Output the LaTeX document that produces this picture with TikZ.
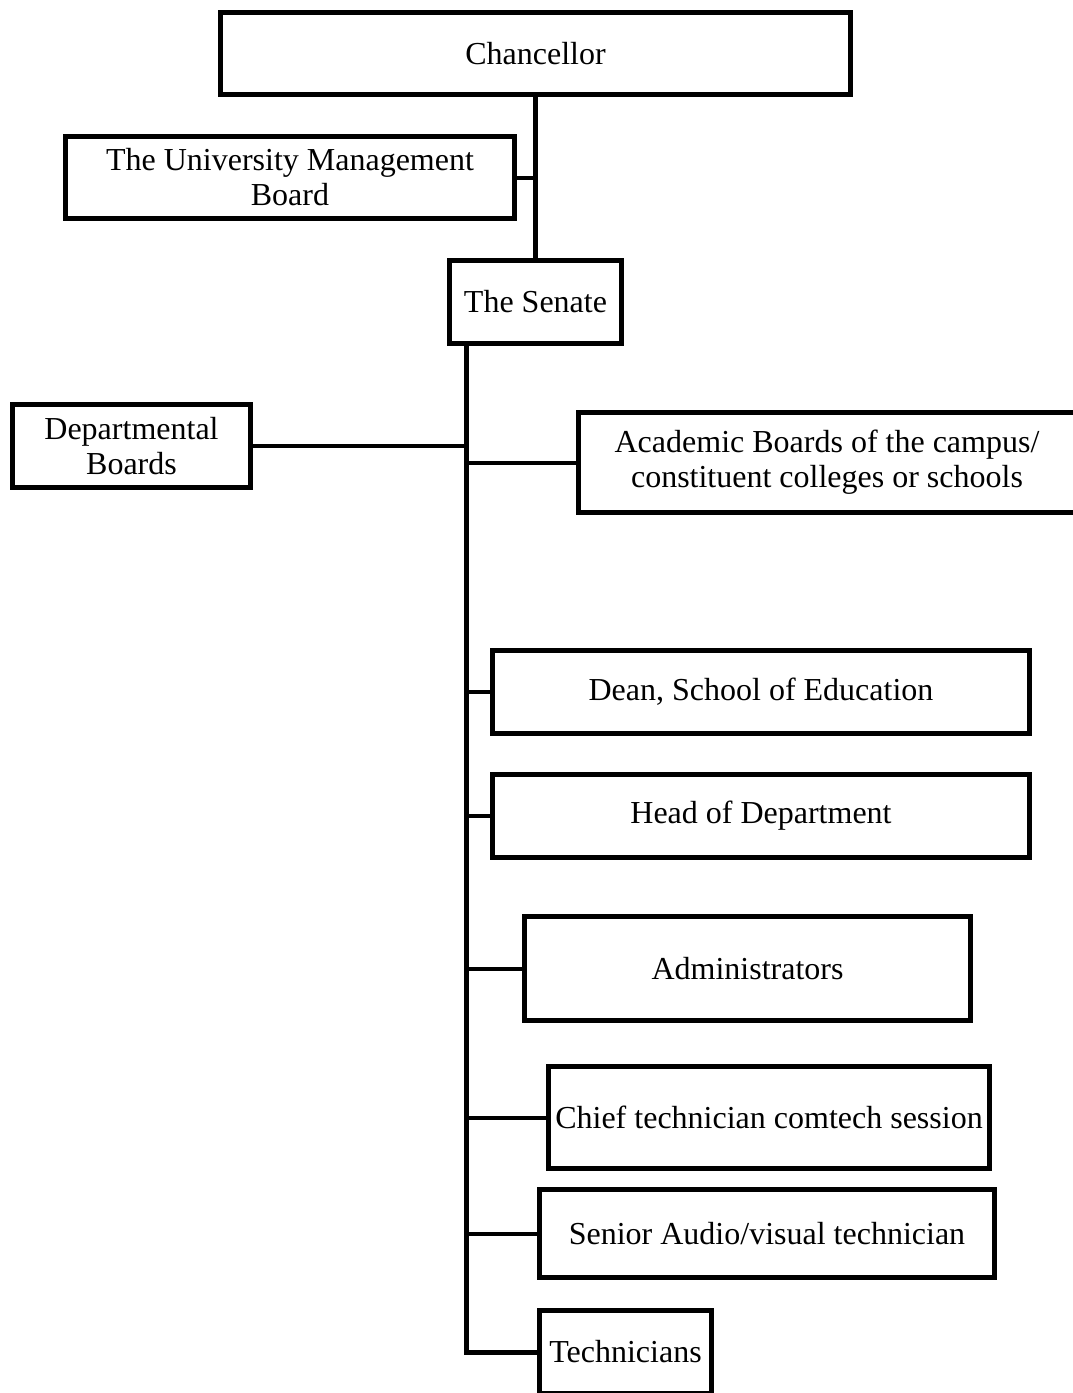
\documentclass[tikz,border=0pt]{standalone}
\usepackage{fontspec}
\setmainfont{Liberation Serif}
\begin{document}
\begin{tikzpicture}[x=1pt,y=-1pt,
  box/.style={draw=black, line width=5pt, fill=white, inner sep=0pt, align=center,
    font=\fontsize{32}{35}\selectfont},
  conn/.style={draw=black, line width=4pt},
  trunk/.style={draw=black, line width=5pt, line join=miter}]
\useasboundingbox (0,0) rectangle (1073,1393);
\clip (0,0) rectangle (1073,1393);
\node[box, minimum width=630pt, minimum height=82pt] (chan) at (535.5,53.5) {Chancellor};
\node[box, minimum width=449pt, minimum height=82pt] (umb) at (290,177.5) {The University Management\\Board};
\node[box, minimum width=172pt, minimum height=83pt] (sen) at (535.5,302) {The Senate};
\node[box, minimum width=238pt, minimum height=83pt] (dept) at (131.5,446) {Departmental\\Boards};
\node[box, minimum width=497pt, minimum height=100pt] (acad) at (827,462.5) {Academic Boards of the campus/\\constituent colleges or schools};
\node[box, minimum width=537pt, minimum height=83pt] (dean) at (761,692) {Dean, School of Education};
\node[box, minimum width=537pt, minimum height=83pt] (hod) at (761,816) {Head of Department};
\node[box, minimum width=446pt, minimum height=104pt] (adm) at (747.5,968.5) {Administrators};
\node[box, minimum width=441pt, minimum height=102pt] (chief) at (769,1117.5) {Chief technician comtech session};
\node[box, minimum width=455pt, minimum height=88pt] (senior) at (767,1233.5) {Senior Audio/visual technician};
\node[box, minimum width=172pt, minimum height=83pt] (tech) at (625.5,1352) {Technicians};
\coordinate (t) at (466,346);
\draw[trunk] (chan.south) -- (sen.north);
\draw[conn] (umb.east) -- (umb.east -| chan.south);
\draw[trunk] (t) -- (t |- tech.west) -- (tech.west);
\draw[conn] (dept.east) -- (dept.east -| t);
\draw[conn] (acad.west) -- (acad.west -| t);
\draw[conn] (dean.west) -- (dean.west -| t);
\draw[conn] (hod.west) -- (hod.west -| t);
\draw[conn] (adm.west) -- (adm.west -| t);
\draw[conn] (chief.west) -- (chief.west -| t);
\draw[conn] (senior.west) -- (senior.west -| t);
\end{tikzpicture}
\end{document}
